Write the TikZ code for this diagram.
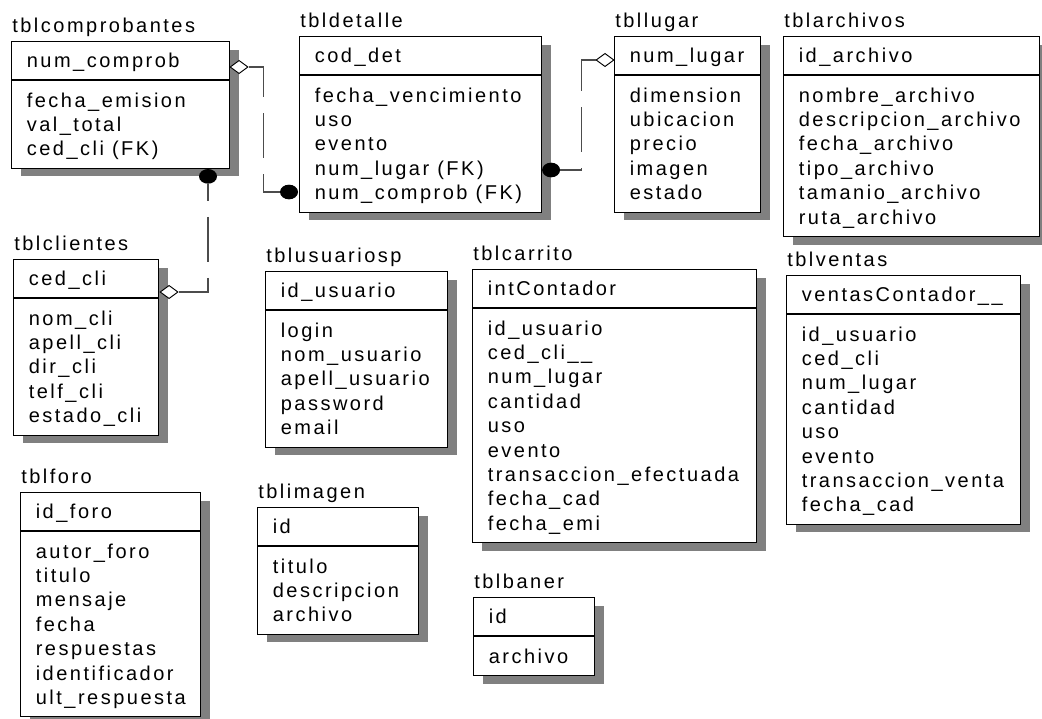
\documentclass[tikz,border=0pt]{standalone}
\usepackage{fontspec}
\setmainfont{Liberation Sans}[LetterSpace=12.5]
\usetikzlibrary{shapes.geometric,shadows,calc}
\tikzset{
 tblbox/.style={draw=black, line width=0.8pt, fill=white, inner sep=0pt,
   drop shadow={shadow xshift=6.75pt, shadow yshift=-6pt, fill=black!50, opacity=1}},
 fld/.style={anchor=base west, inner sep=0pt, font=\fontsize{15}{17}\selectfont},
 ttl/.style={fld},
 sepl/.style={line width=0.8pt},
 rel/.style={draw=black!70, line width=0.8pt, dash pattern=on 33.75pt off 12pt},
 relb/.style={rel, dash phase=21pt},
 diam/.style={diamond, draw=black, fill=white, line width=0.7pt, inner sep=0pt, minimum width=13.5pt, minimum height=10pt},
 dot/.style={ellipse, fill=black, inner sep=0pt, minimum width=13.5pt, minimum height=11pt}
}
\newcommand\ertable[7]{%
  \foreach \r [count=\i] in {#7} {\xdef\nrows{\i}}%
  \pgfmathsetmacro\bh{39+27+(\nrows-1)*24.4+12}%
  \pgfmathsetmacro\bw{#5-#3}%
  \node[tblbox, minimum width=\bw*0.75pt, minimum height=\bh*0.75pt, anchor=north west] (#1) at (#3,#4) {};
  \node[ttl] (#1-t) at ($(#1.north west)+(1,-9)$) {#2};
  \draw[sepl] ($(#1.north west)+(0,39)$) -- ($(#1.north east)+(0,39)$);
  \node[fld] (#1-h) at ($(#1.north west)+(15.5,26)$) {#6};
  \foreach \r [count=\i] in {#7} {
    \node[fld] (#1-\i) at ($(#1.north west)+(15.5,{66+(\i-1)*24.4})$) {\r};
  }%
}
\begin{document}
\begin{tikzpicture}[x=0.75pt, y=-0.75pt]
\useasboundingbox (0,0) rectangle (1042,718);
\ertable{cmp}{tblcomprobantes}{11}{41}{229}{num\_comprob}{fecha\_emision, val\_total, ced\_cli (FK)}
\ertable{det}{tbldetalle}{299}{36}{541}{cod\_det}{fecha\_vencimiento, uso, evento, num\_lugar (FK), num\_comprob (FK)}
\ertable{lug}{tbllugar}{614}{36}{760}{num\_lugar}{dimension, ubicacion, precio, imagen, estado}
\ertable{arc}{tblarchivos}{783}{36}{1039}{id\_archivo}{nombre\_archivo, descripcion\_archivo, fecha\_archivo, tipo\_archivo, tamanio\_archivo, ruta\_archivo}
\ertable{cli}{tblclientes}{13}{259}{158}{ced\_cli}{nom\_cli, apell\_cli, dir\_cli, telf\_cli, estado\_cli}
\ertable{usu}{tblusuariosp}{265}{271}{447}{id\_usuario}{login, nom\_usuario, apell\_usuario, password, email}
\ertable{car}{tblcarrito}{472}{269}{756}{intContador}{id\_usuario, ced\_cli\_\_, num\_lugar, cantidad, uso, evento, transaccion\_efectuada, fecha\_cad, fecha\_emi}
\ertable{ven}{tblventas}{786}{275}{1020}{ventasContador\_\_}{id\_usuario, ced\_cli, num\_lugar, cantidad, uso, evento, transaccion\_venta, fecha\_cad}
\ertable{for}{tblforo}{20}{492}{200}{id\_foro}{autor\_foro, titulo, mensaje, fecha, respuestas, identificador, ult\_respuesta}
\ertable{img}{tblimagen}{257}{507}{418}{id}{titulo, descripcion, archivo}
\ertable{ban}{tblbaner}{473}{597}{594}{id}{archivo}
% relationship ends
\node[diam] (d1) at ($(cmp.north east)+(9,26)$) {};
\node[dot] (c1) at ($(det.north west)+(-10,156)$) {};
\node[dot] (c2) at ($(cmp.south west)+(197,7.5)$) {};
\node[diam] (d2) at ($(cli.north east)+(10,33)$) {};
\node[diam] (d3) at ($(lug.north west)+(-9,24)$) {};
\node[dot] (c3) at ($(det.north east)+(9,134)$) {};
% connectors
\draw[rel] (d1.east) -- ++(15,0) |- (c1.west);
\draw[relb] (c2.south) |- (d2.east);
\draw[rel] (d3.west) -- ++(-14,0) |- (c3.east);
\end{tikzpicture}
\end{document}
